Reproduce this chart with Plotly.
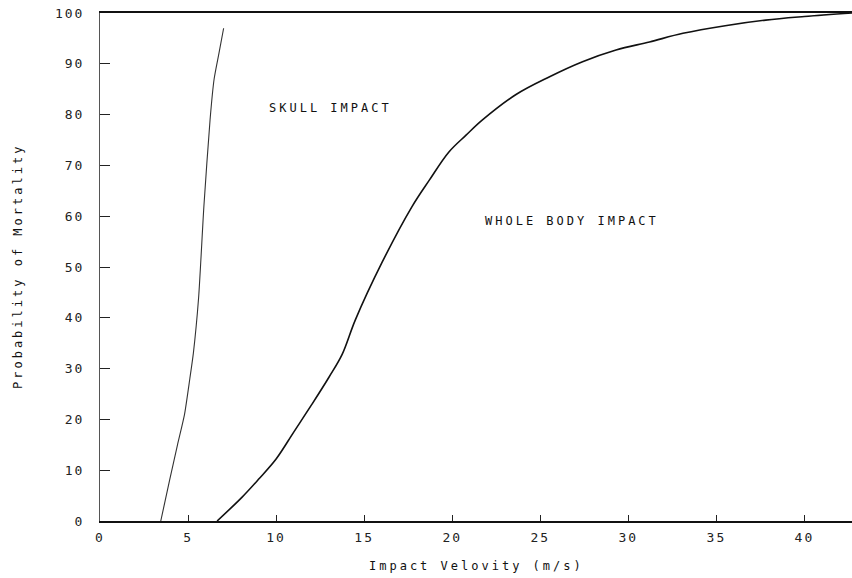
import plotly.graph_objects as go

# Skull impact curve (velocity m/s, probability %)
skull_v = [3.45, 3.95, 4.4, 4.8, 5.1, 5.3, 5.6, 5.9, 6.25, 6.48, 6.75, 7.02]
skull_p = [0, 8, 15, 21, 28, 33, 44, 62, 79, 87, 92, 97]

# Whole body impact curve
body_v = [6.65, 8.07, 9.0, 10.0, 11.0, 12.0, 13.0, 13.75, 14.5, 16.0, 17.7, 18.7, 19.8,
          20.8, 21.7, 23.6, 25.5, 27.4, 29.3, 31.2, 33.1, 35.5, 37.8, 40.0, 42.7]
body_p = [0, 4.7, 8.2, 12.2, 17.5, 22.8, 28.3, 32.8, 39.6, 50.8, 61.8, 67.1, 72.6,
          76.0, 78.9, 83.9, 87.4, 90.4, 92.7, 94.3, 96.0, 97.5, 98.6, 99.3, 100]

x_ticks = [0, 5, 10, 15, 20, 25, 30, 35, 40]
y_ticks = [0, 10, 20, 30, 40, 50, 60, 70, 80, 90, 100]

FONT = "DejaVu Sans Mono"
SP = '<span style="letter-spacing:2px">{}</span>'
SPW = '<span style="letter-spacing:3px">{}</span>'

fig = go.Figure()
fig.add_trace(go.Scatter(x=skull_v, y=skull_p, mode="lines",
                         line=dict(color="#333333", width=1.1, shape="spline", smoothing=0.6),
                         showlegend=False, hoverinfo="skip"))
fig.add_trace(go.Scatter(x=body_v, y=body_p, mode="lines",
                         line=dict(color="#111111", width=1.6, shape="spline", smoothing=1.0),
                         showlegend=False, hoverinfo="skip"))

fig.add_annotation(x=13.1, y=81.3, text=SPW.format("SKULL IMPACT"), showarrow=False,
                   font=dict(family=FONT, size=12, color="#111"))
fig.add_annotation(x=26.8, y=59.0, text=SPW.format("WHOLE BODY IMPACT"), showarrow=False,
                   font=dict(family=FONT, size=12, color="#111"))

# Axis titles
fig.add_annotation(xref="paper", yref="paper", x=0.5, y=0, yshift=-45, yanchor="middle",
                   text=SPW.format("Impact Velovity (m/s)"), showarrow=False,
                   font=dict(family=FONT, size=12, color="#111"))
fig.add_annotation(xref="paper", yref="paper", x=0, xshift=-82, y=0.5, xanchor="center",
                   text=SPW.format("Probability of Mortality"), showarrow=False, textangle=-90,
                   font=dict(family=FONT, size=12, color="#111"))

fig.update_layout(
    width=852, height=578,
    margin=dict(l=100, r=0, t=13, b=57),
    paper_bgcolor="white", plot_bgcolor="white",
    xaxis=dict(range=[0, 42.7], tickvals=x_ticks, ticktext=[SP.format(v) for v in x_ticks],
               ticks="inside", ticklen=6, tickwidth=1, tickcolor="#222",
               showline=True, linecolor="#111", linewidth=1.5, mirror=True,
               showgrid=False, zeroline=False, ticklabelstandoff=4,
               tickfont=dict(family=FONT, size=13, color="#222")),
    yaxis=dict(range=[0, 100], tickvals=y_ticks, ticktext=[SP.format(v) for v in y_ticks],
               ticks="inside", ticklen=10, tickwidth=1.2, tickcolor="#222",
               showline=True, linecolor="#555", linewidth=1,
               showgrid=False, zeroline=False, ticklabelstandoff=12,
               tickfont=dict(family=FONT, size=13, color="#222")),
)

fig.write_html("out.html")
